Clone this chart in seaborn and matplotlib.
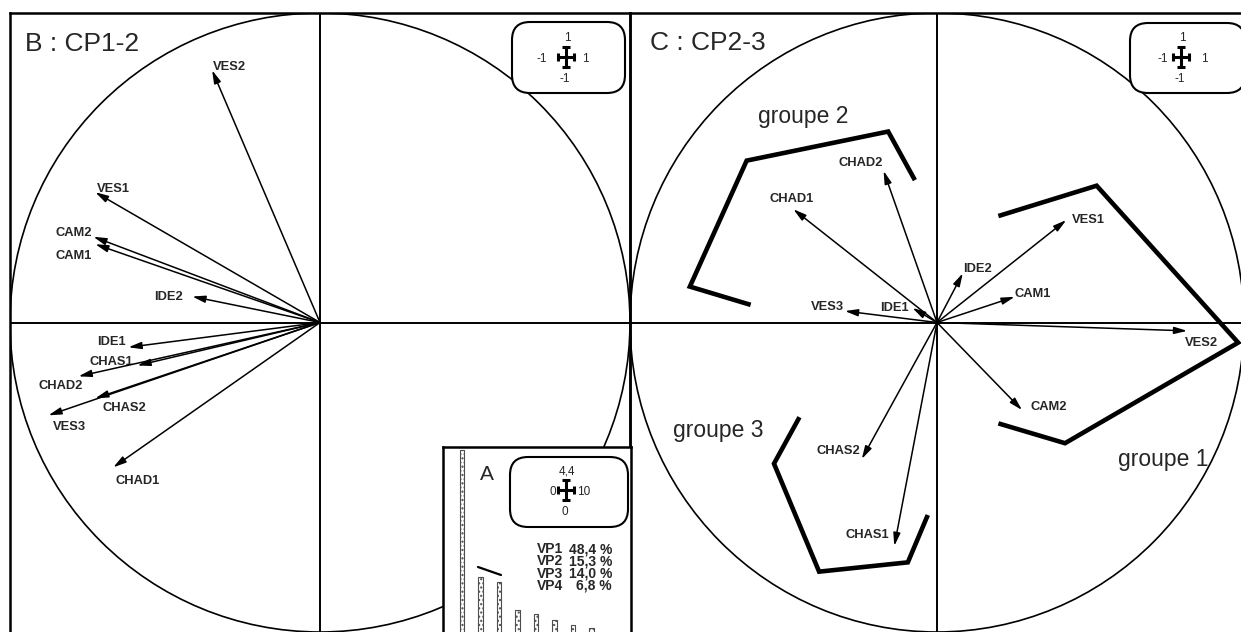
import numpy as np
import pandas as pd
import seaborn as sns
import matplotlib.pyplot as plt
from matplotlib.patches import Circle, FancyBboxPatch

W, H = 1241, 632

# variable loadings on the principal components
variables = ['VES1', 'VES2', 'VES3', 'CAM1', 'CAM2', 'IDE1', 'IDE2',
             'CHAS1', 'CHAS2', 'CHAD1', 'CHAD2']
cp1 = [-0.725, -0.348, -0.876, -0.725, -0.731, -0.618, -0.412,
       -0.589, -0.725, -0.667, -0.779]
cp2 = [0.421, 0.815, -0.300, 0.253, 0.277, -0.080, 0.084,
       -0.139, -0.245, -0.468, -0.174]
cp3 = [0.331, -0.027, 0.037, 0.083, -0.283, 0.047, 0.159,
       -0.722, -0.441, 0.366, 0.490]

# group outlines on the CP2-3 plane
groupe1_x = [0.200, 0.520, 0.981, 0.417, 0.200]
groupe1_y = [0.344, 0.442, -0.065, -0.390, -0.326]
groupe2_x = [-0.607, -0.805, -0.620, -0.159, -0.072]
groupe2_y = [0.057, 0.116, 0.523, 0.617, 0.460]
groupe3_x = [-0.448, -0.531, -0.384, -0.095, -0.030]
groupe3_y = [-0.306, -0.456, -0.805, -0.775, -0.622]

# eigenvalues (scree inset)
vp_names = ['VP1', 'VP2', 'VP3', 'VP4', 'VP5', 'VP6', 'VP7', 'VP8']
eigen = [5.31, 1.69, 1.54, 0.75, 0.63, 0.46, 0.31, 0.23]
vp_pct = [48.4, 15.3, 14.0, 6.8]

# label placement (offset in pixels, alignment)
lab_B = {'VES2': (1, 3, 'left'), 'VES1': (2, 3, 'left'), 'CAM2': (-1, 4, 'right'),
         'CAM1': (-3, -12, 'right'), 'IDE2': (-9, 0, 'right'), 'IDE1': (-3, 5, 'right'),
         'CHAS1': (-4, 4, 'right'), 'CHAD2': (4, -10, 'right'), 'CHAS2': (7, -10, 'left'),
         'VES3': (4, -12, 'left'), 'CHAD1': (2, -14, 'left')}
lab_C = {'CHAD1': (-2, 10, 'center'), 'CHAD2': (-1, 8, 'right'), 'VES3': (-1, 4, 'right'),
         'IDE1': (-4, 0, 'right'), 'CHAS2': (-2, 8, 'right'), 'CHAS1': (-5, 11, 'right'),
         'VES1': (6, 0, 'left'), 'IDE2': (0, 4, 'left'), 'CAM1': (0, 3, 'left'),
         'VES2': (-2, -12, 'left'), 'CAM2': (8, 3, 'left')}

sns.set_theme(style='white')
plt.rcParams['font.family'] = ['Liberation Sans', 'DejaVu Sans']

fig = plt.figure(figsize=(W / 100, H / 100), dpi=100)
axB = fig.add_axes([10 / W, 0, 620 / W, 619 / H], zorder=1)
axC = fig.add_axes([630 / W, 0, 614 / W, 619 / H], zorder=2)


def circle_panel(ax, xs, ys, labels):
    ax.set_xlim(-1, 1)
    ax.set_ylim(-1, 1)
    ax.set_xticks([])
    ax.set_yticks([])
    for s in ax.spines.values():
        s.set_linewidth(1.8)
        s.set_color('black')
    ax.spines['bottom'].set_visible(False)
    ax.axhline(0, color='black', lw=1.4)
    ax.axvline(0, color='black', lw=1.4)
    ax.add_patch(Circle((0, 0), 1, fill=False, lw=1.2, color='black'))
    for name, x, y in zip(variables, xs, ys):
        ax.annotate('', xy=(x, y), xytext=(0, 0),
                    arrowprops=dict(arrowstyle='-|>,head_length=0.55,head_width=0.15',
                                    mutation_scale=14, lw=1.1, color='black',
                                    shrinkA=0, shrinkB=0))
        dx, dy, ha = labels[name]
        ax.annotate(name, xy=(x, y), xytext=(dx, dy), textcoords='offset pixels',
                    ha=ha, va='center', fontsize=9.3, fontweight='bold')


circle_panel(axB, cp1, cp2, lab_B)
circle_panel(axC, cp2, cp3, lab_C)
axB.set_facecolor('white')
axC.patch.set_alpha(0)

for gx, gy in [(groupe1_x, groupe1_y), (groupe2_x, groupe2_y), (groupe3_x, groupe3_y)]:
    sns.lineplot(x=gx, y=gy, sort=False, estimator=None, ax=axC, color='black',
                 lw=3.3, solid_capstyle='butt', solid_joinstyle='miter')

# scree inset A
axA = fig.add_axes([443 / W, -4 / H, 188 / W, 189 / H], zorder=3)
scree = pd.DataFrame({'vp': vp_names, 'eig': eigen})
sns.barplot(data=scree, x='vp', y='eig', ax=axA, color='white', width=0.24,
            edgecolor='0.3', linewidth=0.8, hatch='....')
axA.set_xlim(-1.027, 9.14)
axA.set_ylim(0, 5.4)
axA.set(xlabel='', ylabel='', xticks=[], yticks=[])
axA.set_facecolor('white')
for s in axA.spines.values():
    s.set_linewidth(1.8)
    s.set_color('black')
axA.spines['bottom'].set_visible(False)

# overlay in pixel coordinates for the decorations
ov = fig.add_axes([0, 0, 1, 1], zorder=5)
ov.set_xlim(0, W)
ov.set_ylim(H, 0)
ov.axis('off')
ov.patch.set_alpha(0)


def scale_box(x0, y0, x1, y1, cx, cy, top, left, right, bottom, lx, rx):
    ov.add_patch(FancyBboxPatch((x0, y0), x1 - x0, y1 - y0,
                                boxstyle='round,pad=0,rounding_size=18',
                                fc='white', ec='black', lw=1.5))
    hx, hy, c = 8, 10, 4
    segs = [((cx - hx, cx + hx), (cy, cy)), ((cx, cx), (cy - hy, cy + hy)),
            ((cx - hx, cx - hx), (cy - c, cy + c)), ((cx + hx, cx + hx), (cy - c, cy + c)),
            ((cx - c, cx + c), (cy - hy, cy - hy)), ((cx - c, cx + c), (cy + hy, cy + hy))]
    for xs, ys in segs:
        ov.plot(xs, ys, color='black', lw=2.2, solid_capstyle='butt')
    ov.text(cx + 1, cy - 19, top, ha='center', va='center', fontsize=8.5)
    ov.text(lx, cy + 2, left, ha='right', va='center', fontsize=8.5)
    ov.text(rx, cy + 2, right, ha='left', va='center', fontsize=8.5)
    ov.text(cx - 1, cy + 22, bottom, ha='center', va='center', fontsize=8.5)


scale_box(512, 22, 625, 93, 566, 57, '1', '-1', '1', '-1', 547, 582)
scale_box(1130, 23, 1245, 93, 1181, 57, '1', '-1', '1', '-1', 1168, 1201)
scale_box(510, 457, 628, 527, 566, 490, '4,4', '0', '10', '0', 556, 577)

ov.text(25, 51, 'B : CP1-2', fontsize=19, va='baseline')
ov.text(650, 50, 'C : CP2-3', fontsize=19, va='baseline')
ov.text(758, 123, 'groupe 2', fontsize=16.5, va='baseline')
ov.text(673, 437, 'groupe 3', fontsize=16.5, va='baseline')
ov.text(1118, 466, 'groupe 1', fontsize=16.5, va='baseline')

ov.text(480, 480, 'A', fontsize=15, va='baseline')
ov.plot([478, 501], [567, 575], color='black', lw=1.6)
for i, (name, pct) in enumerate(zip(vp_names, vp_pct)):
    yb = 553 + i * 12.3
    ov.text(537, yb, name, fontsize=10, fontweight='bold', va='baseline')
    ov.text(612, yb, f'{pct:.1f} %'.replace('.', ','), fontsize=10, fontweight='bold',
            va='baseline', ha='right')

fig.savefig('out.png', dpi=100)
